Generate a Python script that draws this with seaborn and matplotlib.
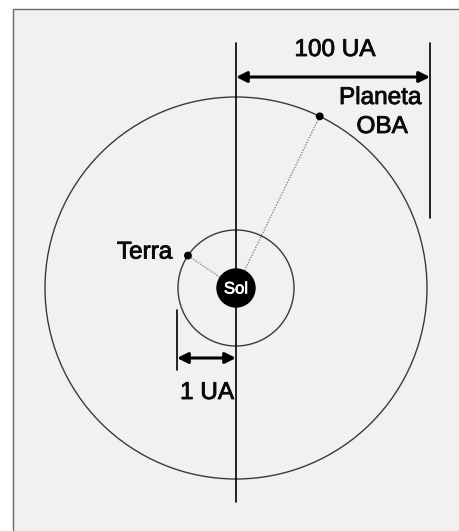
import numpy as np
import pandas as pd
import matplotlib
matplotlib.use("Agg")
import matplotlib.pyplot as plt
import matplotlib.patheffects as pe
from matplotlib.patches import Rectangle, Circle
import seaborn as sns

#------------------------------ data ------------------------------
# schematic orbit radii (drawing units) and what they stand for
orbit_names = ["Terra", "Planeta OBA"]
orbit_radii = [58, 191]
orbit_angles = [146, 64]          # degrees, position of each body on its orbit
scale_labels = ["1 UA", "100 UA"]
sun_label = "Sol"

#------------------------------ figure ------------------------------
sns.set_theme(style="white")
plt.rcParams['font.family'] = ['Liberation Sans', 'DejaVu Sans']

fig = plt.figure(figsize=(4.59, 5.31), dpi=100)
ax = fig.add_axes([0, 0, 1, 1])

cx, cy = 236, 288

# bodies on orbits
bodies = pd.DataFrame({
    "name": orbit_names,
    "x": [cx + r * np.cos(np.radians(a)) for r, a in zip(orbit_radii, orbit_angles)],
    "y": [cy - r * np.sin(np.radians(a)) for r, a in zip(orbit_radii, orbit_angles)],
})
sns.scatterplot(data=bodies, x="x", y="y", ax=ax, color='black', s=32,
                edgecolor='none', zorder=5, legend=False)
ax.set_xlim(0, 459)
ax.set_ylim(531, 0)
ax.set_aspect('equal')
ax.axis('off')

# frame and background
ax.add_patch(Rectangle((13, 9), 460, 540, facecolor='#f1f1f1',
                       edgecolor='#6a6a6a', linewidth=1.0, zorder=0))

# orbits
for r in orbit_radii:
    ax.add_patch(Circle((cx, cy), r, facecolor='none', edgecolor='#3a3a3a', lw=1.0, zorder=2))

for _, b in bodies.iterrows():
    ax.plot([cx, b.x], [cy, b.y], color='#8a8a8a', lw=1.0, ls=(0, (1, 1)), zorder=1)

# vertical axis through the Sun
ax.plot([cx, cx], [43, 502], color='black', lw=1.2, zorder=3)

# Sun
ax.add_patch(Circle((cx, cy), 19, facecolor='black', edgecolor='black', zorder=6))
ax.text(cx, cy + 1, sun_label, color='white', fontsize=12, ha='center', va='center', zorder=7,
        path_effects=[pe.withStroke(linewidth=0.5, foreground='white')])

txt = dict(fontsize=17.5, color='#0a0a0a',
           path_effects=[pe.withStroke(linewidth=0.6, foreground='#0a0a0a')])

# labels
ax.text(bodies.x[0] - 16, bodies.y[0] - 3, orbit_names[0], ha='right', va='center', **txt)
ax.text(380, 98, "Planeta", ha='center', va='center', **txt)
ax.text(382, 127, "OBA", ha='center', va='center', **txt)

# 100 UA scale
rx = cx + orbit_radii[1] + 3
ax.plot([rx, rx], [43, 218], color='black', lw=1.2, zorder=3)
ax.annotate("", xy=(rx, 77), xytext=(cx, 77),
            arrowprops=dict(arrowstyle='<|-|>', color='black', lw=2.2,
                            mutation_scale=16, shrinkA=0, shrinkB=0))
ax.text(335, 50, scale_labels[1], ha='center', va='center', **txt)

# 1 UA scale
lx = cx - orbit_radii[0] - 1
ax.plot([lx, lx], [310, 370], color='black', lw=1.2, zorder=3)
ax.annotate("", xy=(cx, 358), xytext=(lx, 358),
            arrowprops=dict(arrowstyle='<|-|>', color='black', lw=2.2,
                            mutation_scale=16, shrinkA=0, shrinkB=0))
ax.text(207, 393, scale_labels[0], ha='center', va='center', **txt)

plt.savefig('out.png', dpi=100)
